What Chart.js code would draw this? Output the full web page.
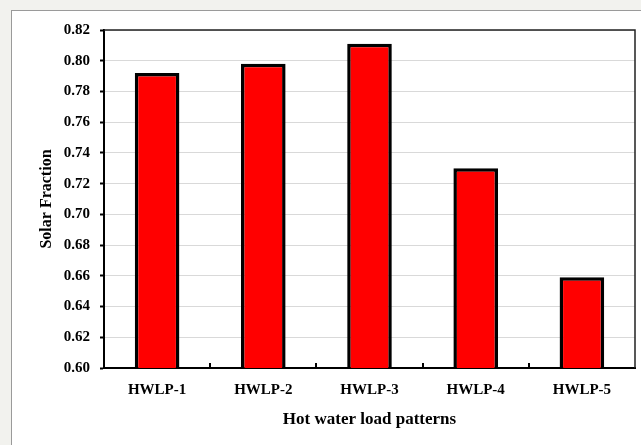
<!DOCTYPE html>
<html>
<head>
<meta charset="utf-8">
<script src="https://cdn.jsdelivr.net/npm/chart.js@4.4.0/dist/chart.umd.min.js"></script>
<style>
  body { margin: 0; background: #f2f2ee; width: 641px; height: 445px; overflow: hidden; }
  #panel {
    position: absolute; left: 11px; top: 10px; width: 630px; height: 435px;
    box-sizing: border-box; background: #fff;
    border-left: 1px solid #9a9a9a; border-top: 1px solid #9a9a9a;
  }
  canvas { display: block; }
</style>
</head>
<body>
<div id="panel"><canvas id="chart" width="629" height="434"></canvas></div>
<script>
const categories = ['HWLP-1', 'HWLP-2', 'HWLP-3', 'HWLP-4', 'HWLP-5'];
const solarFraction = [0.792, 0.798, 0.811, 0.730, 0.659];
const yMin = 0.60, yMax = 0.82, yStep = 0.02;

const serif = '"Liberation Serif", "Times New Roman", serif';

// top and right edges of the plot frame, plus small inward ticks between categories
const frame = {
    id: 'frame',
    afterDraw(chart) {
        const { ctx, chartArea: a } = chart;
        const x = chart.scales.x;
        ctx.save();
        ctx.strokeStyle = '#222';
        ctx.lineWidth = 1.5;
        ctx.beginPath();
        ctx.moveTo(a.left, a.top);
        ctx.lineTo(a.right, a.top);
        ctx.lineTo(a.right, a.bottom);
        ctx.stroke();

        ctx.strokeStyle = '#000';
        ctx.lineWidth = 2;
        ctx.beginPath();
        for (let i = 1; i < categories.length; i++) {
            const px = Math.round((x.getPixelForTick(i - 1) + x.getPixelForTick(i)) / 2);
            ctx.moveTo(px, a.bottom);
            ctx.lineTo(px, a.bottom - 5);
        }
        ctx.stroke();
        ctx.restore();
    }
};

new Chart(document.getElementById('chart'), {
    type: 'bar',
    data: {
        labels: categories,
        datasets: [{
            data: solarFraction,
            backgroundColor: '#ff0000',
            borderColor: '#000',
            borderWidth: 3.5,
            barPercentage: 0.42,
            categoryPercentage: 1
        }]
    },
    plugins: [frame],
    options: {
        responsive: false,
        animation: false,
        layout: { padding: { top: 18, right: 6, left: 0, bottom: 0 } },
        plugins: {
            legend: { display: false },
            tooltip: { enabled: false }
        },
        scales: {
            x: {
                grid: { display: true, drawOnChartArea: false, drawTicks: false },
                border: { display: true, color: '#000', width: 2 },
                ticks: {
                    color: '#000',
                    padding: 13,
                    font: { family: serif, size: 15, weight: 'bold' }
                },
                title: {
                    display: true,
                    text: 'Hot water load patterns',
                    color: '#000',
                    padding: { top: 0, bottom: 15 },
                    font: { family: serif, size: 17, weight: 'bold' }
                },
                afterFit: scale => { scale.height = 77; }
            },
            y: {
                min: yMin,
                max: yMax,
                ticks: {
                    stepSize: yStep,
                    color: '#000',
                    padding: 10,
                    font: { family: serif, size: 15, weight: 'bold' },
                    callback: v => v.toFixed(2)
                },
                grid: { color: '#d9d9d9', lineWidth: 1, tickColor: '#000', tickLength: 4, tickWidth: 2 },
                border: { display: true, color: '#000', width: 2 },
                title: {
                    display: true,
                    text: 'Solar Fraction',
                    color: '#000',
                    padding: { top: 25, bottom: 0 },
                    font: { family: serif, size: 16, weight: 'bold' }
                },
                afterFit: scale => { scale.width = 92; }
            }
        }
    }
});
</script>
</body>
</html>
